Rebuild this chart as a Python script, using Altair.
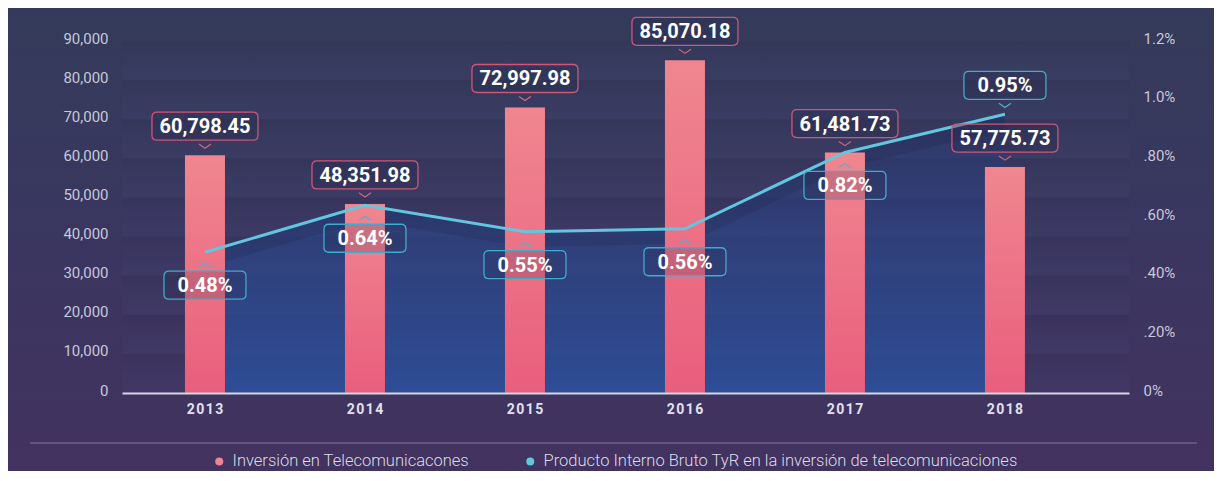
import altair as alt
import pandas as pd

# ---------------- data ----------------
years = ["2013", "2014", "2015", "2016", "2017", "2018"]
inversion = [60798.45, 48351.98, 72997.98, 85070.18, 61481.73, 57775.73]
pib_pct = [0.48, 0.64, 0.55, 0.56, 0.82, 0.95]
series = [
    "Inversión en Telecomunicacones",
    "Producto Interno Bruto TyR en la inversión de telecomunicaciones",
]
left_ticks = [0, 10000, 20000, 30000, 40000, 50000, 60000, 70000, 80000, 90000]
right_ticks = [0, 0.2, 0.4, 0.6, 0.8, 1.0, 1.2]

df = pd.DataFrame({"year": years, "inv": inversion, "pct": pib_pct})
stripes_df = pd.DataFrame({"lo": left_ticks[:-1], "hi": left_ticks[1:]})
one = pd.DataFrame({"a": [0]})

# ---------------- layout / style ----------------
W, H = 1007, 352
PAD = {"left": 114, "top": 33, "right": 85, "bottom": 78}
PINK = "#f0848e"
CYAN = "#62c6de"
FONT = "Roboto"
LEG_FONT = "Roboto"

yL = alt.Scale(domain=[0, 90000], nice=False, zero=True)
yR = alt.Scale(domain=[0, 1.2], nice=False, zero=True)
xscale = alt.Scale(paddingInner=0.75, paddingOuter=0.522, align=0.377)
x_axis = alt.Axis(
    title=None, labelAngle=0, ticks=False, zindex=2,
    labelExpr="join(split(datum.label, ''), '\u200a')",
    labelFont=FONT, labelFontWeight="bold", labelFontSize=14,
    labelColor="#e2e2ec", labelPadding=9,
    domainColor="#d6d6e4", domainWidth=2, grid=False,
)
X = alt.X("year:N", scale=xscale, sort=years, axis=x_axis)


def grad(stops, x1=0, y1=0, x2=0, y2=1):
    return alt.LinearGradient(
        gradient="linear",
        stops=[alt.GradientStop(color=c, offset=o) for o, c in stops],
        x1=x1, y1=y1, x2=x2, y2=y2,
    )


def rounded_box(w, h, r):
    hw = w / 2.0
    a = 1.0
    b = (h / 2.0) / hw
    rr = r / hw
    return (
        f"M {-a+rr} {-b} L {a-rr} {-b} Q {a} {-b} {a} {-b+rr} "
        f"L {a} {b-rr} Q {a} {b} {a-rr} {b} L {-a+rr} {b} "
        f"Q {-a} {b} {-a} {b-rr} L {-a} {-b+rr} Q {-a} {-b} {-a+rr} {-b} Z"
    )


CHEV_DOWN = "M -1 -0.35 L 0 0.35 L 1 -0.35"
CHEV_UP = "M -1 0.35 L 0 -0.35 L 1 0.35"
BAR_BOX = rounded_box(106, 28, 5)
PCT_BOX = rounded_box(82, 28, 5)

# ---------------- layers ----------------
bg = alt.Chart(one).mark_rect(
    fill=grad([(0, "#343b5a"), (0.5, "#3a3660"), (1, "#42325f")])
).encode(
    x=alt.value(-PAD["left"]), x2=alt.value(W + PAD["right"]),
    y=alt.value(-PAD["top"]), y2=alt.value(H + PAD["bottom"]),
)

stripes = alt.Chart(stripes_df).mark_rect(
    fill=grad([(0, "rgba(20,22,50,0.08)"), (1, "rgba(110,130,210,0.05)")])
).encode(
    x=alt.value(0), x2=alt.value(W),
    y=alt.Y("hi:Q", scale=yL, axis=None), y2="lo:Q",
)

area = alt.Chart(df).mark_area(
    fill=grad([(0, "rgba(30,55,120,0.30)"), (0.45, "rgba(38,72,145,0.52)"), (1, "rgba(40,84,165,0.78)")]),
    interpolate="linear",
).encode(x=X, y=alt.Y("pct:Q", scale=yR, axis=None))

shadow = alt.Chart(df).mark_line(
    color="#141430", strokeWidth=14, opacity=0.14, yOffset=8
).encode(x=X, y=alt.Y("pct:Q", scale=yR, axis=None))

bars = alt.Chart(df).mark_bar(
    fill=grad([(0, "#f0868f"), (1, "#e95e7d")])
).encode(
    x=X,
    y=alt.Y(
        "inv:Q", scale=yL,
        axis=alt.Axis(
            orient="left", title=None, values=left_ticks, format=",.0f",
            labelFont=FONT, labelFontSize=15, labelColor="#c8c8d8",
            labelPadding=14, ticks=False, domain=False, grid=False,
            labelOffset=-3, zindex=2,
        ),
    ),
)

line = alt.Chart(df).mark_line(color=CYAN, strokeWidth=3).encode(
    x=X,
    y=alt.Y(
        "pct:Q", scale=yR,
        axis=alt.Axis(
            orient="right", title=None, values=right_ticks,
            labelExpr="datum.value == 0 ? '0%' : (datum.value >= 1 ? format(datum.value, '.1f') + '%' : replace(format(datum.value, '.2f'), '0.', '.') + '%')",
            labelFont=FONT, labelFontSize=15, labelColor="#c8c8d8",
            labelPadding=14, ticks=False, domain=False, grid=False,
            labelOffset=-3, zindex=2,
        ),
    ),
)

yInv = alt.Y("inv:Q", scale=yL, axis=None)
bar_chev = alt.Chart(df).mark_point(
    shape=CHEV_DOWN, size=144, filled=False, stroke="#d8637d", strokeWidth=1.2,
    opacity=1, yOffset=-9,
).encode(x=X, y=yInv)
bar_box = alt.Chart(df).mark_point(
    shape=BAR_BOX, size=106 * 106, filled=True, fill="#2c2c50", fillOpacity=0.35,
    stroke="#c9587a", strokeWidth=1.3, opacity=1, yOffset=-29,
).encode(x=X, y=yInv)
bar_txt = alt.Chart(df).mark_text(
    font=FONT, fontSize=20, fontWeight="bold", color="#ffffff",
    baseline="middle", align="center", yOffset=-28,
).encode(x=X, y=yInv, text=alt.Text("inv:Q", format=",.2f"))

yPct = alt.Y("pct:Q", scale=yR, axis=None)
pct_base = alt.Chart(df).transform_calculate(lbl="format(datum.pct, '.2f') + '%'")
below = pct_base.transform_filter("datum.year != '2018'")
above = pct_base.transform_filter("datum.year == '2018'")

pct_chev_b = below.mark_point(
    shape=CHEV_UP, size=144, filled=False, stroke="#4fb2cf", strokeWidth=1.2,
    opacity=1, yOffset=13,
).encode(x=X, y=yPct)
pct_box_b = below.mark_point(
    shape=PCT_BOX, size=82 * 82, filled=True, fill="#2c2c50", fillOpacity=0.2,
    stroke="#3eaccc", strokeWidth=1.3, opacity=1, yOffset=33,
).encode(x=X, y=yPct)
pct_txt_b = below.mark_text(
    font=FONT, fontSize=20, fontWeight="bold", color="#ffffff",
    baseline="middle", align="center", yOffset=34,
).encode(x=X, y=yPct, text="lbl:N")

pct_chev_a = above.mark_point(
    shape=CHEV_DOWN, size=144, filled=False, stroke="#4fb2cf", strokeWidth=1.2,
    opacity=1, yOffset=-9,
).encode(x=X, y=yPct)
pct_box_a = above.mark_point(
    shape=PCT_BOX, size=82 * 82, filled=True, fill="#2c2c50", fillOpacity=0.35,
    stroke="#3eaccc", strokeWidth=1.3, opacity=1, yOffset=-29,
).encode(x=X, y=yPct)
pct_txt_a = above.mark_text(
    font=FONT, fontSize=20, fontWeight="bold", color="#ffffff",
    baseline="middle", align="center", yOffset=-28,
).encode(x=X, y=yPct, text="lbl:N")

divider = alt.Chart(one).mark_rule(color="#6b5d93", strokeWidth=1.5).encode(
    x=alt.value(-92), x2=alt.value(1075), y=alt.value(402)
)

legend = alt.Chart(pd.DataFrame({"serie": series})).mark_circle(opacity=0).encode(
    color=alt.Color(
        "serie:N",
        scale=alt.Scale(domain=series, range=[PINK, CYAN]),
        legend=alt.Legend(
            title=None, orient="none", legendX=89, legendY=412,
            direction="horizontal", symbolType="circle", symbolSize=64,
            symbolOpacity=1, symbolStrokeWidth=0,
            labelFont=LEG_FONT, labelFontSize=16.5, labelFontWeight=300,
            labelColor="#dcdbe8", labelOffset=5, columnPadding=52,
            labelLimit=900, padding=0, zindex=2,
        ),
    ),
    x=alt.value(0), y=alt.value(0),
)

chart = alt.layer(
    bg, stripes, area, shadow, bars, line,
    bar_chev, bar_box, bar_txt,
    pct_chev_b, pct_box_b, pct_txt_b,
    pct_chev_a, pct_box_a, pct_txt_a,
    divider, legend,
).resolve_scale(y="independent").properties(
    width=W, height=H, padding=PAD,
    autosize=alt.AutoSizeParams(type="none"),
    background="#3d3560",
).configure_view(stroke=None)

chart.save("out.html", embed_options={"renderer": "svg", "actions": False})
